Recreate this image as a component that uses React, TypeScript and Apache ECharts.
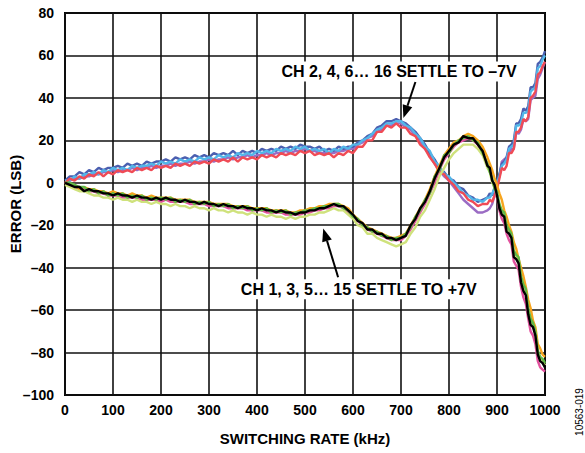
import React, { useEffect, useRef } from "react";
import * as echarts from "echarts";

// Switching rate (kHz)
const XS = [
  0, 10, 20, 30, 40, 50, 60, 70, 80, 90,
  100, 110, 120, 130, 140, 150, 160, 170, 180, 190,
  200, 210, 220, 230, 240, 250, 260, 270, 280, 290,
  300, 310, 320, 330, 340, 350, 360, 370, 380, 390,
  400, 410, 420, 430, 440, 450, 460, 470, 480, 490,
  500, 510, 520, 530, 540, 550, 560, 570, 580, 590,
  600, 610, 620, 630, 640, 650, 660, 670, 680, 690,
  700, 710, 720, 730, 740, 750, 760, 770, 780, 790,
  800, 810, 820, 830, 840, 850, 860, 870, 880,
  885, 890, 895, 900, 905, 910, 915, 920, 925, 930, 935, 940,
  945, 950, 955, 960, 965, 970, 975, 980, 985, 990, 995, 1000,
];

// CH 2, 4, 6 ... 16 (settle to -7V)
const CH_PURPLE = [
  0, 1, 2, 2, 3, 3, 4, 4, 5, 5,
  6, 5, 6, 6, 7, 6, 7, 7, 8, 7,
  8, 8, 9, 8, 9, 9, 10, 9, 10, 10,
  11, 10, 11, 11, 12, 11, 12, 12, 13, 12,
  13, 13, 14, 13, 14, 14, 15, 14, 15, 15,
  16, 15, 15, 14, 14, 14, 14, 15, 15, 16,
  16, 18, 19, 21, 22, 24, 25, 27, 27, 28,
  28, 26, 25, 22, 20, 16, 13, 9, 6, 3,
  1, -2, -5, -8, -10, -12, -14, -14, -13,
  -12, -10, -6, -1, 3, 10, 11, 12, 14, 16, 16, 24,
  23, 25, 30, 29, 30, 39, 40, 41, 49, 51, 54, 57,
];
const CH_BLUE = [
  1, 3, 3, 5, 4, 6, 5, 7, 6, 7,
  7, 8, 7, 9, 8, 9, 8, 10, 9, 10,
  10, 11, 10, 12, 11, 12, 11, 13, 12, 13,
  12, 14, 13, 14, 13, 15, 13, 15, 14, 15,
  14, 16, 15, 16, 15, 17, 16, 17, 16, 18,
  17, 17, 16, 17, 15, 16, 15, 17, 16, 17,
  17, 19, 20, 22, 23, 26, 27, 29, 29, 30,
  29, 28, 26, 24, 21, 18, 14, 11, 7, 5,
  2, 1, -2, -3, -6, -7, -9, -8, -7,
  -5, -6, -2, 1, 4, 9, 10, 12, 17, 18, 20, 28,
  28, 30, 35, 34, 36, 45, 45, 47, 56, 57, 59, 62,
];
const CH_LIGHTBLUE = [
  1, 1, 3, 2, 4, 4, 5, 4, 6, 5,
  7, 6, 7, 6, 8, 7, 8, 8, 9, 8,
  10, 9, 10, 9, 11, 10, 11, 10, 12, 11,
  12, 11, 13, 12, 13, 12, 14, 13, 14, 13,
  15, 14, 15, 14, 16, 15, 16, 15, 17, 16,
  17, 15, 16, 15, 16, 14, 16, 15, 17, 16,
  18, 18, 20, 21, 23, 25, 26, 28, 28, 29,
  29, 27, 26, 23, 21, 17, 15, 10, 8, 4,
  3, 0, -2, -5, -6, -8, -8, -9, -7,
  -7, -5, -3, 0, 3, 8, 9, 11, 16, 17, 18, 27,
  27, 28, 33, 33, 34, 43, 44, 45, 54, 55, 58, 60,
];
const CH_RED = [
  0, 2, 1, 3, 2, 4, 3, 5, 3, 5,
  4, 6, 5, 6, 5, 7, 6, 7, 6, 8,
  7, 8, 7, 9, 8, 9, 8, 10, 9, 10,
  9, 11, 10, 11, 10, 12, 10, 12, 11, 12,
  11, 13, 12, 13, 12, 14, 13, 14, 13, 15,
  14, 15, 13, 14, 13, 14, 12, 14, 13, 15,
  14, 17, 17, 20, 20, 24, 24, 27, 26, 28,
  26, 26, 23, 22, 18, 16, 12, 9, 5, 4,
  1, -1, -4, -5, -8, -9, -11, -10, -10,
  -8, -9, -6, -3, 2, 7, 6, 8, 14, 14, 16, 24,
  24, 26, 30, 29, 31, 40, 41, 43, 51, 52, 55, 57,
];

// CH 1, 3, 5 ... 15 (settle to +7V)
const CH_PINK = [
  0, -1, -2, -3, -3, -4, -4, -5, -5, -6,
  -6, -6, -7, -7, -7, -7, -8, -8, -8, -8,
  -9, -8, -9, -9, -9, -9, -10, -10, -10, -10,
  -11, -11, -11, -11, -12, -12, -12, -12, -13, -13,
  -13, -13, -14, -14, -14, -14, -15, -15, -15, -15,
  -14, -14, -13, -13, -12, -12, -11, -11, -12, -14,
  -16, -18, -20, -22, -23, -24, -25, -26, -27, -27,
  -27, -25, -22, -18, -14, -10, -5, 0, 6, 11,
  14, 17, 19, 20, 21, 20, 18, 14, 9,
  6, 1, -2, -7, -13, -17, -19, -24, -27, -29, -37, -39,
  -41, -49, -54, -57, -64, -70, -72, -76, -84, -87, -88, -89,
];
const CH_ORANGE = [
  0, -1, -1, -3, -2, -3, -3, -4, -4, -5,
  -4, -5, -5, -6, -5, -6, -6, -7, -6, -7,
  -7, -7, -7, -8, -8, -8, -8, -9, -9, -9,
  -9, -10, -10, -10, -10, -11, -11, -11, -11, -12,
  -12, -12, -12, -13, -13, -13, -13, -14, -14, -13,
  -13, -12, -12, -11, -11, -10, -10, -10, -11, -12,
  -15, -17, -19, -21, -22, -23, -24, -25, -26, -26,
  -25, -24, -20, -16, -12, -8, -3, 3, 8, 13,
  16, 19, 20, 22, 23, 22, 20, 17, 12,
  9, 6, 2, -1, -5, -8, -13, -16, -20, -23, -28, -31,
  -36, -40, -44, -49, -55, -59, -65, -68, -76, -78, -81, -82,
];
const CH_YELLOWGREEN = [
  -1, -2, -3, -4, -4, -5, -6, -6, -7, -7,
  -8, -7, -8, -8, -9, -8, -9, -9, -10, -9,
  -10, -10, -11, -10, -11, -11, -12, -11, -12, -12,
  -13, -12, -13, -13, -14, -13, -14, -14, -15, -14,
  -15, -15, -16, -15, -16, -16, -17, -16, -17, -16,
  -16, -15, -15, -14, -14, -13, -12, -13, -13, -15,
  -17, -20, -21, -24, -24, -26, -27, -28, -29, -30,
  -29, -28, -24, -21, -16, -13, -8, -3, 3, 7,
  11, 14, 16, 18, 18, 18, 16, 13, 7,
  5, 0, -2, -6, -11, -14, -15, -22, -23, -25, -34, -35,
  -37, -46, -50, -52, -61, -65, -67, -71, -80, -83, -84, -86,
];
const CH_GREEN = [
  0, 0, -1, -2, -2, -4, -3, -5, -4, -6,
  -5, -6, -5, -7, -6, -7, -6, -8, -7, -8,
  -7, -8, -7, -9, -8, -9, -8, -10, -9, -10,
  -9, -11, -10, -11, -10, -12, -11, -12, -11, -13,
  -12, -13, -12, -14, -13, -14, -13, -15, -14, -14,
  -13, -13, -12, -12, -11, -11, -10, -10, -12, -13,
  -16, -17, -20, -21, -23, -23, -25, -25, -27, -26,
  -26, -24, -21, -16, -13, -8, -5, 3, 6, 13,
  14, 18, 20, 21, 22, 20, 19, 14, 9,
  5, 2, -3, -4, -10, -13, -14, -20, -22, -24, -32, -34,
  -35, -44, -48, -50, -59, -64, -66, -70, -79, -82, -83, -85,
];
const CH_BLACK = [
  0, -1, -2, -2, -4, -3, -4, -4, -5, -5,
  -6, -5, -6, -6, -7, -6, -7, -7, -8, -7,
  -8, -7, -8, -8, -9, -8, -9, -9, -10, -9,
  -10, -10, -11, -10, -11, -11, -12, -11, -12, -12,
  -13, -12, -13, -13, -14, -13, -14, -14, -15, -14,
  -14, -13, -13, -12, -12, -11, -10, -11, -11, -13,
  -15, -18, -19, -22, -22, -24, -24, -26, -26, -27,
  -26, -25, -20, -17, -12, -9, -4, 2, 7, 12,
  15, 18, 19, 22, 21, 21, 18, 15, 8,
  7, 1, -1, -6, -12, -15, -16, -23, -24, -26, -35, -36,
  -38, -47, -51, -53, -62, -67, -68, -72, -81, -84, -85, -87,
];

const X_MIN = 0;
const X_MAX = 1000;
const X_STEP = 100;
const Y_MIN = -100;
const Y_MAX = 80;
const Y_STEP = 20;

const X_TITLE = "SWITCHING RATE (kHz)";
const Y_TITLE = "ERROR (LSB)";
const NOTE_EVEN = "CH 2, 4, 6\u2026 16 SETTLE TO \u20137V";
const NOTE_ODD = "CH 1, 3, 5\u2026 15 SETTLE TO +7V";
const FIG_ID = "10563-019";

// annotation anchors in data coordinates [kHz, LSB]
const NOTE_EVEN_AT = [696, 52.4];
const ARROW_EVEN = [[730, 47.5], [705, 30.5]];
const NOTE_ODD_AT = [612, -50.2];
const ARROW_ODD = [[569, -44.5], [538, -21.5]];

const SERIES = [
  { name: "CH purple", data: CH_PURPLE, color: "#9b6cc4" },
  { name: "CH blue", data: CH_BLUE, color: "#4b5fb0" },
  { name: "CH light blue", data: CH_LIGHTBLUE, color: "#52b6e8" },
  { name: "CH red", data: CH_RED, color: "#f04b55" },
  { name: "CH pink", data: CH_PINK, color: "#e2529e" },
  { name: "CH orange", data: CH_ORANGE, color: "#f7a51e" },
  { name: "CH yellow-green", data: CH_YELLOWGREEN, color: "#cfe27c" },
  { name: "CH green", data: CH_GREEN, color: "#62ba46" },
  { name: "CH black", data: CH_BLACK, color: "#000000" },
];

const FONT = "'Liberation Sans', Arial, Helvetica, sans-serif";

const fmtNum = (v: number) => (v < 0 ? "\u2013" + Math.abs(v) : String(v));

export default function App() {
  const ref = useRef<HTMLDivElement>(null);

  useEffect(() => {
    document.body.style.margin = "0";
    if (!ref.current) return;
    const chart = echarts.init(ref.current, null, { renderer: "svg" });

    chart.setOption({
      animation: false,
      backgroundColor: "#ffffff",
      grid: {
        left: 65,
        right: 40,
        top: 13,
        bottom: 58,
        show: true,
        borderColor: "#000000",
        borderWidth: 2,
        backgroundColor: "transparent",
        containLabel: false,
      },
      xAxis: {
        type: "value",
        min: X_MIN,
        max: X_MAX,
        interval: X_STEP,
        axisLine: { show: false },
        axisTick: { show: false },
        splitLine: { show: true, lineStyle: { color: "#111111", width: 1.6 } },
        axisLabel: {
          formatter: (v: number) => fmtNum(v),
          color: "#000",
          fontFamily: FONT,
          fontWeight: "bold",
          fontSize: 14,
          margin: 8,
        },
      },
      yAxis: {
        type: "value",
        min: Y_MIN,
        max: Y_MAX,
        interval: Y_STEP,
        axisLine: { show: false },
        axisTick: { show: false },
        splitLine: { show: true, lineStyle: { color: "#111111", width: 1.6 } },
        axisLabel: {
          formatter: (v: number) => fmtNum(v),
          color: "#000",
          fontFamily: FONT,
          fontWeight: "bold",
          fontSize: 14,
          margin: 11,
        },
      },
      series: SERIES.map((s, k) => ({
        type: "line",
        name: s.name,
        data: XS.map((x, i) => [x, s.data[i]]),
        showSymbol: false,
        symbol: "none",
        silent: true,
        z: 2 + k,
        lineStyle: { color: s.color, width: 2.4, join: "bevel" },
        itemStyle: { color: s.color },
      })),
    });

    const px = (p: number[]) => chart.convertToPixel({ gridIndex: 0 }, p) as number[];

    const arrow = (from: number[], to: number[]) => {
      const a = px(from);
      const b = px(to);
      const dx = b[0] - a[0];
      const dy = b[1] - a[1];
      const len = Math.sqrt(dx * dx + dy * dy);
      const ux = dx / len;
      const uy = dy / len;
      const hl = 13;
      const hw = 5;
      const bx = b[0] - ux * hl;
      const by = b[1] - uy * hl;
      return [
        {
          type: "line",
          z: 100,
          shape: { x1: a[0], y1: a[1], x2: bx, y2: by },
          style: { stroke: "#000", lineWidth: 2 },
        },
        {
          type: "polygon",
          z: 100,
          shape: {
            points: [
              [b[0], b[1]],
              [bx - uy * hw, by + ux * hw],
              [bx + uy * hw, by - ux * hw],
            ],
          },
          style: { fill: "#000" },
        },
      ];
    };

    const note = (text: string, at: number[], w: number) => {
      const p = px(at);
      return [
        {
          type: "rect",
          z: 99,
          shape: { x: p[0] - w / 2, y: p[1] - 10, width: w, height: 20 },
          style: { fill: "#ffffff" },
        },
        {
          type: "text",
          z: 101,
          x: p[0],
          y: p[1],
          style: {
            text,
            fill: "#000",
            font: `bold 16px ${FONT}`,
            textAlign: "center",
            textVerticalAlign: "middle",
          },
        },
      ];
    };

    chart.setOption({
      graphic: [
        ...note(NOTE_EVEN, NOTE_EVEN_AT, 242),
        ...arrow(ARROW_EVEN[0], ARROW_EVEN[1]),
        ...note(NOTE_ODD, NOTE_ODD_AT, 244),
        ...arrow(ARROW_ODD[0], ARROW_ODD[1]),
        {
          type: "text",
          x: 305,
          y: 438,
          style: {
            text: X_TITLE,
            fill: "#000",
            font: `bold 15px ${FONT}`,
            textAlign: "center",
            textVerticalAlign: "middle",
          },
        },
        {
          type: "text",
          x: 15,
          y: 204,
          rotation: Math.PI / 2,
          style: {
            text: Y_TITLE,
            fill: "#000",
            font: `bold 15px ${FONT}`,
            textAlign: "center",
            textVerticalAlign: "middle",
          },
        },
        {
          type: "text",
          x: 579,
          y: 412,
          rotation: Math.PI / 2,
          style: {
            text: FIG_ID,
            fill: "#000",
            font: `10px ${FONT}`,
            textAlign: "center",
            textVerticalAlign: "middle",
          },
        },
      ],
    });

    return () => {
      chart.dispose();
    };
  }, []);

  return <div ref={ref} style={{ width: 585, height: 453 }} />;
}
